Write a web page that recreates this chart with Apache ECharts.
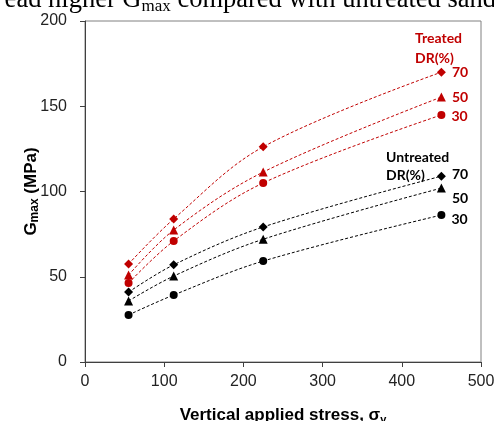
<!DOCTYPE html>
<html><head><meta charset="utf-8">
<script src="https://cdn.jsdelivr.net/npm/echarts@6/dist/echarts.min.js"></script>
<style>html,body{margin:0;padding:0;background:#fff}#c{width:494px;height:421px}</style>
</head><body><div id="c"></div>
<script>
const stress = [55, 112, 225, 450];
const treated70 = [57.5, 83.9, 126.2, 170];
const treated50 = [51, 77.4, 111.4, 155.4];
const treated30 = [46.3, 71, 105, 144.9];
const untreated70 = [41, 57, 79.2, 109];
const untreated50 = [35.8, 50.4, 72, 102];
const untreated30 = [27.6, 39.3, 59.2, 86.2];
const drLabels = ['70', '50', '30'];
const xTicks = [0, 100, 200, 300, 400, 500];
const yTicks = [0, 50, 100, 150, 200];

const RED = '#C00000', BLK = '#000000';
function mk(name, vals, color, symbol, size, lab, labOff) {
  return {
    name, type: 'line', smooth: 0.35,
    data: vals.map((v, i) => {
      const d = { value: [stress[i], v] };
      if (i === vals.length - 1) {
        d.label = { show: true, formatter: lab, position: 'right', distance: 6, offset: labOff,
          color: color, fontFamily: 'Lato', fontWeight: 'bold', fontSize: 14 };
      }
      return d;
    }),
    symbol, symbolSize: size,
    itemStyle: { color },
    lineStyle: { color, width: 1, type: [3, 2] },
    z: 3
  };
}
const chart = echarts.init(document.getElementById('c'));
chart.setOption({
  animation: false,
  grid: { left: 85, right: 13, top: 21, bottom: 59, show: true, borderColor: '#808080', borderWidth: 1,
    outerBoundsMode: 'none', containLabel: false },
  xAxis: {
    type: 'value', min: 0, max: 500, interval: 100,
    axisLine: { show: true, lineStyle: { color: '#404040', width: 1 } },
    axisTick: { show: true, inside: false, length: 5, lineStyle: { color: '#404040' } },
    splitLine: { show: false },
    axisLabel: { color: '#222', fontFamily: 'Liberation Sans', fontSize: 16, margin: 12,
      formatter: v => xTicks.includes(v) ? String(v) : '' },
    name: '{b|Vertical applied stress, σ}{s|v}', nameLocation: 'middle', nameGap: 44,
    nameTextStyle: { rich: {
      b: { fontFamily: 'Liberation Sans', fontWeight: 'bold', fontSize: 17, color: '#000' },
      s: { fontFamily: 'Liberation Sans', fontWeight: 'bold', fontSize: 11, color: '#000', verticalAlign: 'bottom', padding: [8, 0, 0, 0] } } }
  },
  yAxis: {
    type: 'value', min: 0, max: 200, interval: 50,
    axisLine: { show: true, lineStyle: { color: '#404040', width: 1 } },
    axisTick: { show: true, inside: false, length: 5, lineStyle: { color: '#404040' } },
    splitLine: { show: false },
    axisLabel: { color: '#222', fontFamily: 'Liberation Sans', fontSize: 16, margin: 18,
      formatter: v => yTicks.includes(v) ? String(v) : '' },
    name: '{b|G}{s|max}{b| (MPa)}', nameLocation: 'middle', nameGap: 44, nameRotate: 90,
    nameMoveOverlap: false,
    nameTextStyle: { rich: {
      b: { fontFamily: 'Liberation Sans', fontWeight: 'bold', fontSize: 17, color: '#000' },
      s: { fontFamily: 'Liberation Sans', fontWeight: 'bold', fontSize: 12, color: '#000', verticalAlign: 'bottom', padding: [8, 0, 0, 0] } } }
  },
  series: [
    mk('T70', treated70, RED, 'diamond', 9, drLabels[0], [0, 0]),
    mk('T50', treated50, RED, 'triangle', 9, drLabels[1], [0, 0]),
    mk('T30', treated30, RED, 'circle', 8, drLabels[2], [0, 2]),
    mk('U70', untreated70, BLK, 'diamond', 9, drLabels[0], [0, -2]),
    mk('U50', untreated50, BLK, 'triangle', 9, drLabels[1], [0, 10]),
    mk('U30', untreated30, BLK, 'circle', 8, drLabels[2], [0, 4])
  ],
  graphic: [
    { type: 'text', right: -2, top: -13, style: {
      text: '{a|ead higher G}{s|max}{a| compared with untreated sand}',
      rich: { a: { fontFamily: 'Liberation Serif', fontSize: 26.5, fill: '#000' },
              s: { fontFamily: 'Liberation Serif', fontSize: 17, fill: '#000', verticalAlign: 'bottom', padding: [12, 0, 0, 0] } } } },
    { type: 'text', left: 415, top: 28, style: { text: 'Treated\nDR(%)', fill: RED, font: 'bold 14px Lato', lineHeight: 20 } },
    { type: 'text', left: 386, top: 148, style: { text: 'Untreated\nDR(%)', fill: BLK, font: 'bold 14px Lato', lineHeight: 18 } }
  ]
});
</script></body></html>
